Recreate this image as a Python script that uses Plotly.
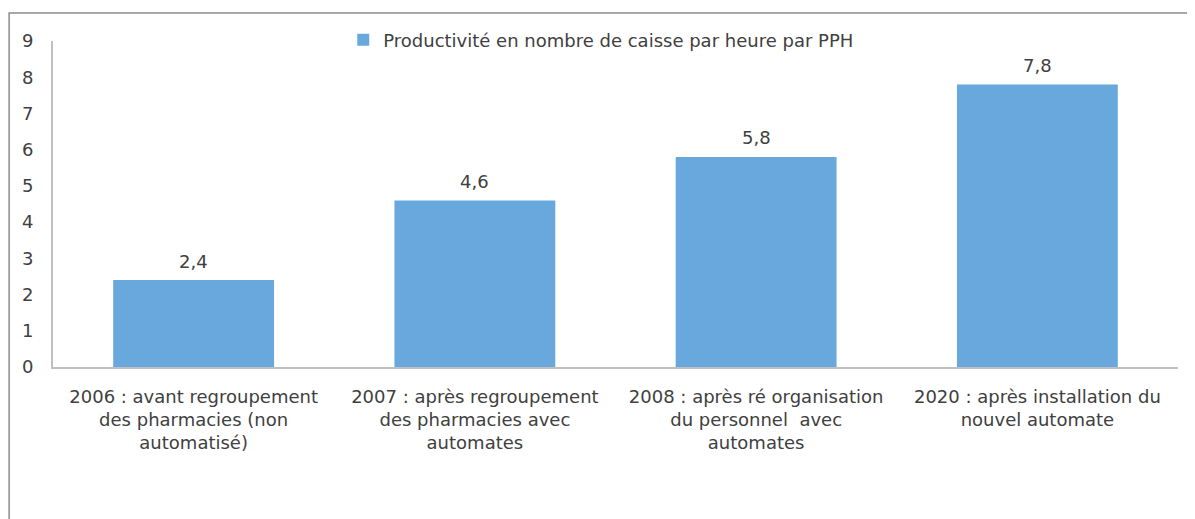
import plotly.graph_objects as go

categories = [
    "2006 : avant regroupement<br>des pharmacies (non<br>automatisé)",
    "2007 : après regroupement<br>des pharmacies avec<br>automates",
    "2008 : après ré organisation<br>du personnel  avec<br>automates",
    "2020 : après installation du<br>nouvel automate",
]
values = [2.4, 4.6, 5.8, 7.8]
series_name = "Productivité en nombre de caisse par heure par PPH"
y_ticks = [0, 1, 2, 3, 4, 5, 6, 7, 8, 9]

FONT = "DejaVu Sans"
TXT = "#404040"
FS = 18

fig = go.Figure()
fig.add_trace(go.Bar(
    x=categories, y=values, name=series_name,
    marker=dict(color="#68a8dd", line=dict(width=0)),
    showlegend=True,
))

for c, v in zip(categories, values):
    fig.add_annotation(
        x=c, y=v, text=f"{v:.1f}".replace(".", ","),
        showarrow=False, yanchor="middle", yshift=19,
        font=dict(family=FONT, size=FS, color=TXT),
    )

fig.add_shape(
    type="rect", xref="paper", yref="paper",
    x0=-0.039, x1=1.1, y0=-0.6, y1=1.086,
    line=dict(color="#8c8c8c", width=1.5), fillcolor="rgba(0,0,0,0)",
    layer="below",
)

fig.update_layout(
    width=1187, height=511,
    margin=dict(l=45, r=17, t=33, b=152, autoexpand=False),
    paper_bgcolor="white", plot_bgcolor="white",
    font=dict(family=FONT, size=FS, color=TXT),
    bargap=0.428,
    showlegend=True,
    legend=dict(
        orientation="h", x=0.258, xanchor="left", y=1.003, yanchor="middle",
        font=dict(family=FONT, size=FS, color=TXT),
        bgcolor="rgba(0,0,0,0)", itemwidth=30,
    ),
    xaxis=dict(
        showline=True, linecolor="#c0c0c0", linewidth=2,
        showgrid=False, ticks="", ticklabelstandoff=12,
        tickfont=dict(family=FONT, size=FS, color=TXT),
        fixedrange=True,
    ),
    yaxis=dict(
        range=[0, 9], tickvals=y_ticks, showline=True, linecolor="#c0c0c0",
        linewidth=2, showgrid=False, zeroline=False, ticks="",
        ticklabelstandoff=14,
        tickfont=dict(family=FONT, size=FS, color=TXT),
        fixedrange=True,
    ),
)

fig.write_html("out.html")
